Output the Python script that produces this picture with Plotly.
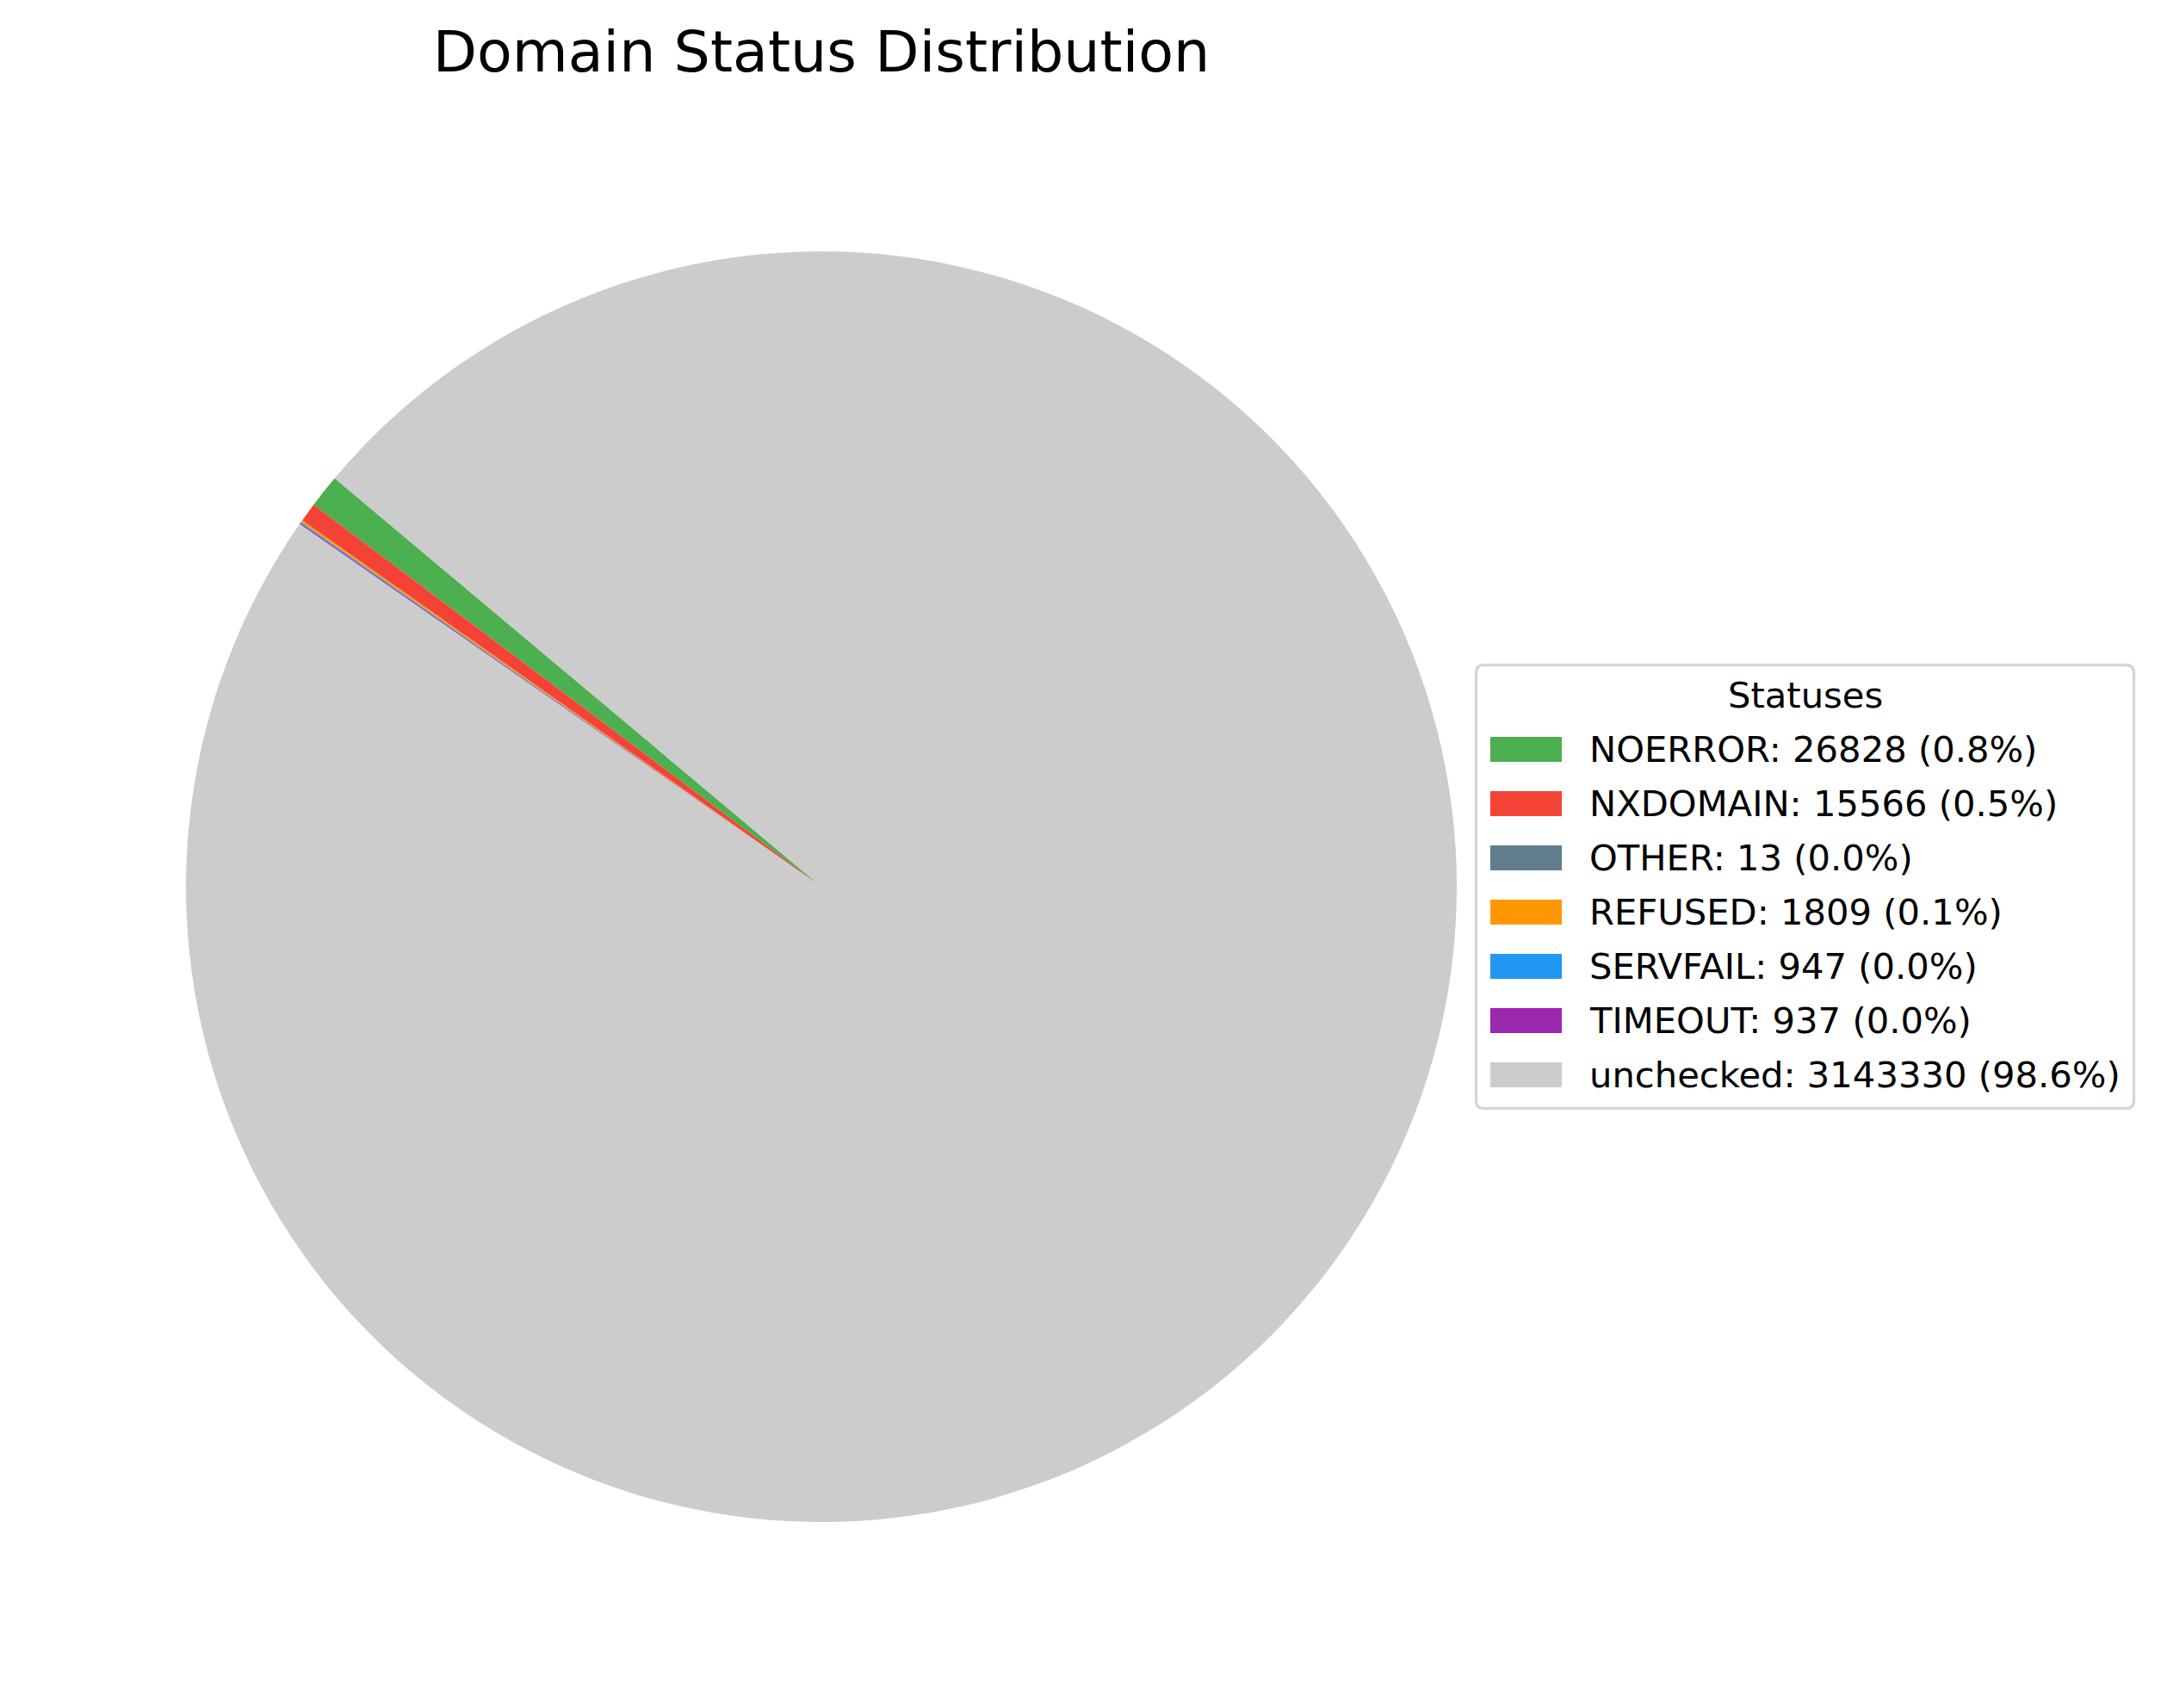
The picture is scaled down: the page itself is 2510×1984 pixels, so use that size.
import plotly.graph_objects as go

# ---- data ----
statuses = ["NOERROR", "NXDOMAIN", "OTHER", "REFUSED", "SERVFAIL", "TIMEOUT", "unchecked"]
counts = [26828, 15566, 13, 1809, 947, 937, 3143330]
colors = ["#4CAF50", "#F44336", "#607D8B", "#FF9800", "#2196F3", "#9C27B0", "#CCCCCC"]
chart_title = "Domain Status Distribution"
legend_title = "Statuses"

W, H = 2510, 1984
FONT = "DejaVu Sans"

total = sum(counts)
legend_labels = [f"{s}: {c} ({100 * c / total:.1f}%)" for s, c in zip(statuses, counts)]

def px_x(px):
    return px / W

def px_y(py):
    return 1 - py / H

# pie geometry (pixels)
cx, cy, r = 954, 1030, 738
start_angle = 140  # matplotlib-style start angle (counterclockwise from +x)
first_slice_deg = 360 * counts[0] / total
rotation = (90 - start_angle) - first_slice_deg

fig = go.Figure()
fig.add_trace(go.Pie(
    labels=statuses,
    values=counts,
    sort=False,
    direction="counterclockwise",
    rotation=rotation,
    marker=dict(colors=colors, line=dict(width=0)),
    textinfo="none",
    textposition="none",
    hoverinfo="label+value+percent",
    showlegend=False,
    domain=dict(x=[px_x(cx - r), px_x(cx + r)], y=[px_y(cy + r), px_y(cy - r)]),
))

# ---- manual legend (matplotlib style) ----
box_l, box_r, box_t, box_b = 1714.5, 2478.5, 772.5, 1287.5
rad = 9
shapes = []
path = (
    f"M {px_x(box_l + rad)},{px_y(box_t)} "
    f"L {px_x(box_r - rad)},{px_y(box_t)} "
    f"Q {px_x(box_r)},{px_y(box_t)} {px_x(box_r)},{px_y(box_t + rad)} "
    f"L {px_x(box_r)},{px_y(box_b - rad)} "
    f"Q {px_x(box_r)},{px_y(box_b)} {px_x(box_r - rad)},{px_y(box_b)} "
    f"L {px_x(box_l + rad)},{px_y(box_b)} "
    f"Q {px_x(box_l)},{px_y(box_b)} {px_x(box_l)},{px_y(box_b - rad)} "
    f"L {px_x(box_l)},{px_y(box_t + rad)} "
    f"Q {px_x(box_l)},{px_y(box_t)} {px_x(box_l + rad)},{px_y(box_t)} Z"
)
shapes.append(dict(type="path", xref="paper", yref="paper", path=path,
                   line=dict(color="#d6d6d6", width=3.3), fillcolor="white", layer="above"))

row0, row_step = 870.5, 63
patch_l, patch_r, patch_h = 1731, 1814, 29
text_x = 1844
annotations = [dict(text=legend_title, x=px_x((box_l + box_r) / 2), y=px_y(807),
                    xref="paper", yref="paper", xanchor="center", yanchor="middle",
                    showarrow=False, font=dict(family=FONT, size=41.7, color="black"))]
for i, (lab, col) in enumerate(zip(legend_labels, colors)):
    yc = row0 + i * row_step
    shapes.append(dict(type="rect", xref="paper", yref="paper",
                       x0=px_x(patch_l), x1=px_x(patch_r),
                       y0=px_y(yc - patch_h / 2), y1=px_y(yc + patch_h / 2),
                       fillcolor=col, line=dict(width=0), layer="above"))
    annotations.append(dict(text=lab, x=px_x(text_x), y=px_y(yc),
                            xref="paper", yref="paper", xanchor="left", yanchor="middle",
                            showarrow=False, font=dict(family=FONT, size=41.7, color="black")))

fig.update_layout(
    width=W, height=H,
    margin=dict(l=0, r=0, t=0, b=0),
    paper_bgcolor="white", plot_bgcolor="white",
    font=dict(family=FONT, color="black"),
    title=dict(text=chart_title, x=px_x(cx), xanchor="center",
               y=1 - 60 / H, yanchor="middle",
               font=dict(family=FONT, size=66.7, color="black")),
    shapes=shapes,
    annotations=annotations,
)

fig.write_html("out.html", config={"displayModeBar": False},
               post_script="document.body.style.margin='0';")
